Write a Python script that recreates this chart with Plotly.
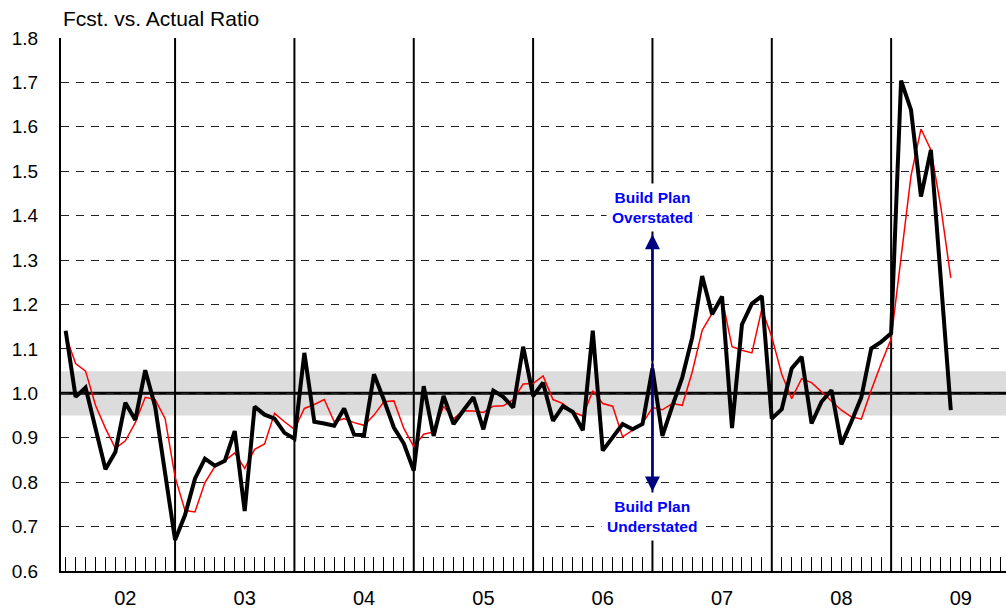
import plotly.graph_objects as go

# month index (0 = first month shown)
months = list(range(90))

actual_ratio = [1.141, 0.992, 1.013, 0.921, 0.829, 0.868, 0.979, 0.940, 1.052, 0.970,
                0.814, 0.670, 0.726, 0.808, 0.853, 0.837, 0.848, 0.915, 0.735, 0.970,
                0.952, 0.943, 0.911, 0.898, 1.091, 0.936, 0.932, 0.927, 0.966, 0.907,
                0.906, 1.043, 0.985, 0.923, 0.887, 0.826, 1.016, 0.904, 0.994, 0.931,
                0.962, 0.991, 0.919, 1.006, 0.992, 0.968, 1.105, 0.994, 1.024, 0.938,
                0.971, 0.958, 0.917, 1.141, 0.871, 0.901, 0.931, 0.919, 0.931, 1.056,
                0.904, 0.971, 1.036, 1.126, 1.264, 1.178, 1.218, 0.922, 1.155, 1.202,
                1.219, 0.943, 0.964, 1.056, 1.082, 0.932, 0.981, 1.007, 0.885, 0.936,
                0.991, 1.101, 1.116, 1.135, 1.704, 1.638, 1.443, 1.548, 1.254, 0.962]

smoothed_ratio = [1.130, 1.067, 1.050, 0.973, 0.921, 0.876, 0.893, 0.934, 0.991, 0.986,
                  0.943, 0.812, 0.736, 0.733, 0.799, 0.835, 0.848, 0.866, 0.831, 0.874,
                  0.886, 0.955, 0.936, 0.919, 0.966, 0.975, 0.986, 0.936, 0.943, 0.934,
                  0.928, 0.951, 0.981, 0.983, 0.921, 0.880, 0.908, 0.913, 0.971, 0.943,
                  0.961, 0.960, 0.957, 0.971, 0.972, 0.986, 1.021, 1.022, 1.039, 0.986,
                  0.977, 0.958, 0.949, 1.006, 0.977, 0.971, 0.902, 0.918, 0.932, 0.968,
                  0.963, 0.977, 0.973, 1.048, 1.142, 1.180, 1.214, 1.105, 1.097, 1.091,
                  1.190, 1.127, 1.043, 0.988, 1.033, 1.024, 1.003, 0.981, 0.962, 0.947,
                  0.942, 1.007, 1.067, 1.122, 1.306, 1.490, 1.595, 1.548, 1.419, 1.260]

year_labels = ["02", "03", "04", "05", "06", "07", "08", "09"]
year_label_pos = [6, 18, 30, 42, 54, 66, 78, 90]
year_boundaries = [11, 23, 35, 47, 59, 71, 83]
y_ticks = [0.6, 0.7, 0.8, 0.9, 1.0, 1.1, 1.2, 1.3, 1.4, 1.5, 1.6, 1.7, 1.8]
band_low, band_high = 0.95, 1.05
arrow_x = 59
arrow_center, arrow_top, arrow_bottom = 1.07, 1.358, 0.779

FONT = "Arial, Liberation Sans, sans-serif"

fig = go.Figure()
fig.add_trace(go.Scatter(x=months, y=smoothed_ratio, mode="lines",
                         line=dict(color="#FF0000", width=1.5), showlegend=False))
fig.add_trace(go.Scatter(x=months, y=actual_ratio, mode="lines",
                         line=dict(color="#000000", width=4), showlegend=False))

shapes = []
shapes.append(dict(type="rect", xref="paper", x0=0, x1=1, yref="y", y0=band_low, y1=band_high,
                   fillcolor="#DCDCDC", line=dict(width=0), layer="below"))
shapes.append(dict(type="line", xref="paper", x0=0, x1=1, yref="y", y0=1.0, y1=1.0,
                   line=dict(color="#000000", width=3), layer="below"))
for b in year_boundaries:
    shapes.append(dict(type="line", xref="x", x0=b, x1=b, yref="y", y0=0.6, y1=1.8,
                       line=dict(color="#000000", width=2), layer="below"))
fig.update_layout(shapes=shapes)

# arrows
for tip in (arrow_top, arrow_bottom):
    fig.add_annotation(x=arrow_x, y=tip, ax=arrow_x, ay=arrow_center, xref="x", yref="y",
                       axref="x", ayref="y", text="", showarrow=True, arrowhead=2,
                       arrowsize=1.2, arrowwidth=2.5, arrowcolor="#000080")

fig.add_annotation(x=arrow_x, y=1.418, xref="x", yref="y", text="<b>Build Plan<br>Overstated</b>",
                   showarrow=False, font=dict(family=FONT, size=15.5, color="#0000FF"),
                   bgcolor="#FFFFFF", borderpad=5)
fig.add_annotation(x=arrow_x, y=0.7237, xref="x", yref="y", text="<b>Build Plan<br>Understated</b>",
                   showarrow=False, font=dict(family=FONT, size=15.5, color="#0000FF"),
                   bgcolor="#FFFFFF", borderpad=5)

fig.add_annotation(x=0, xref="paper", xanchor="left", y=1.036, yref="paper", yanchor="middle",
                   text="Fcst. vs. Actual Ratio", showarrow=False,
                   font=dict(family=FONT, size=21, color="#000000"))

tickvals = list(range(0, 95))
ticktext = []
for t in tickvals:
    if t in year_label_pos:
        ticktext.append(year_labels[year_label_pos.index(t)])
    else:
        ticktext.append("")

fig.update_xaxes(range=[-0.47, 94.55], tickmode="array", tickvals=tickvals, ticktext=ticktext,
                 ticks="inside", ticklen=14, tickwidth=1, tickcolor="#000000",
                 showgrid=False, zeroline=False, showline=True, linecolor="#000000", linewidth=2,
                 tickfont=dict(family=FONT, size=20, color="#000000"), ticklabelstandoff=8,
                 automargin=False)
fig.update_yaxes(range=[0.6, 1.8], tickmode="array", tickvals=y_ticks,
                 ticktext=[f"{v:.1f}" for v in y_ticks],
                 ticks="", showgrid=True, gridcolor="#222222", gridwidth=1, griddash="8px,7px",
                 zeroline=False, showline=True, linecolor="#000000", linewidth=2,
                 tickfont=dict(family=FONT, size=19, color="#000000"), ticklabelstandoff=17,
                 automargin=False)

fig.update_layout(width=1006, height=608, margin=dict(l=61, r=0, t=38, b=37),
                  paper_bgcolor="#FFFFFF", plot_bgcolor="#FFFFFF",
                  font=dict(family=FONT))

fig.write_html("out.html", post_script="document.body.style.margin='0';",
               config={"displayModeBar": False})
